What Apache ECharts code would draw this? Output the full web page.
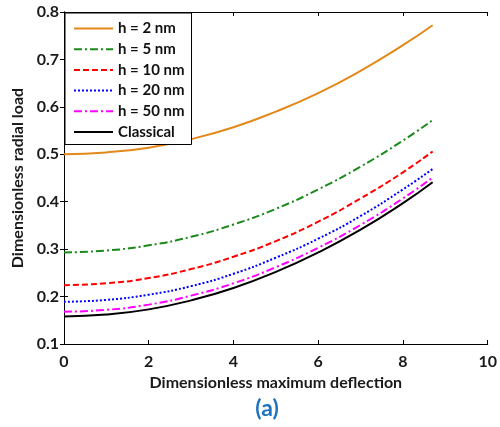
<!DOCTYPE html>
<html>
<head>
<meta charset="utf-8">
<script src="https://cdn.jsdelivr.net/npm/echarts@6/dist/echarts.min.js"></script>
<style>
  html, body { margin: 0; padding: 0; background: #fff; }
  #chart { width: 500px; height: 427px; }
</style>
</head>
<body>
<div id="chart"></div>
<script>
// Dimensionless maximum deflection (x) sample points
const deflection = [0, 1, 2, 3, 4, 5, 6, 7, 8, 8.7];

// Dimensionless radial load for each plate thickness
const load_h2 = [0.500, 0.504, 0.514, 0.532, 0.557, 0.590, 0.629, 0.676, 0.730, 0.772];
const load_h5 = [0.293, 0.297, 0.308, 0.326, 0.352, 0.385, 0.426, 0.474, 0.529, 0.572];
const load_h10 = [0.224, 0.228, 0.239, 0.258, 0.284, 0.317, 0.358, 0.407, 0.462, 0.506];
const load_h20 = [0.189, 0.193, 0.204, 0.222, 0.248, 0.282, 0.322, 0.370, 0.426, 0.469];
const load_h50 = [0.168, 0.172, 0.183, 0.202, 0.228, 0.262, 0.303, 0.351, 0.407, 0.451];
const load_classical = [0.158, 0.162, 0.173, 0.192, 0.218, 0.252, 0.293, 0.341, 0.397, 0.441];

const seriesNames = ['h = 2 nm', 'h = 5 nm', 'h = 10 nm', 'h = 20 nm', 'h = 50 nm', 'Classical'];
const xTicks = [0, 2, 4, 6, 8, 10];
const yTicks = [0.1, 0.2, 0.3, 0.4, 0.5, 0.6, 0.7, 0.8];

const FONT = 'Lato';

function pairs(ys) {
  return deflection.map((x, i) => [x, ys[i]]);
}

const styles = [
  { color: '#E3891A', type: 'solid' },
  { color: '#1A8A1A', type: [8, 3, 2, 3] },
  { color: '#FF0000', type: [6, 3] },
  { color: '#0000FF', type: [2, 2] },
  { color: '#FF00FF', type: [8, 3, 2, 3] },
  { color: '#000000', type: 'solid' }
];
const dataSets = [load_h2, load_h5, load_h10, load_h20, load_h50, load_classical];

const series = dataSets.map((d, i) => ({
  name: seriesNames[i],
  type: 'line',
  data: pairs(d),
  smooth: true,
  symbol: 'none',
  color: styles[i].color,
  lineStyle: { width: 2, color: styles[i].color, type: styles[i].type },
  z: 3
}));

const tickFont = { color: '#1a1a1a', fontFamily: FONT, fontWeight: 'bold', fontSize: 16 };
const titleFont = { color: '#1a1a1a', fontFamily: FONT, fontWeight: 'bold', fontSize: 16 };

const chart = echarts.init(document.getElementById('chart'));
chart.setOption({
  animation: false,
  backgroundColor: '#ffffff',
  grid: { left: 64, right: 9, top: 12, bottom: 83, containLabel: false },
  legend: {
    data: seriesNames,
    orient: 'vertical',
    left: 65,
    top: 13,
    itemWidth: 39,
    itemHeight: 14,
    itemGap: 5.7,
    padding: [8, 7, 5, 8],
    backgroundColor: '#fff',
    borderColor: '#000',
    borderWidth: 1,
    itemStyle: { opacity: 0 },
    textStyle: { color: '#111', fontFamily: FONT, fontWeight: 'bold', fontSize: 15 }
  },
  xAxis: [
    {
      type: 'value', min: 0, max: 10, interval: 2,
      name: 'Dimensionless maximum deflection',
      nameLocation: 'middle', nameGap: 29,
      nameTextStyle: titleFont,
      axisLine: { show: true, lineStyle: { color: '#000', width: 1 } },
      axisTick: { show: true, inside: true, length: 4, lineStyle: { color: '#000' } },
      axisLabel: Object.assign({ margin: 10, formatter: v => xTicks.includes(v) ? String(v) : '' }, tickFont),
      splitLine: { show: false }
    },
    {
      type: 'value', min: 0, max: 10, interval: 2, position: 'top',
      axisLine: { show: true, lineStyle: { color: '#000', width: 1 } },
      axisTick: { show: true, inside: true, length: 4, lineStyle: { color: '#000' } },
      axisLabel: { show: false },
      splitLine: { show: false }
    }
  ],
  yAxis: [
    {
      type: 'value', min: 0.1, max: 0.8, interval: 0.1,
      name: 'Dimensionless radial load',
      nameLocation: 'middle', nameGap: 37,
      nameTextStyle: titleFont,
      axisLine: { show: true, lineStyle: { color: '#000', width: 1 } },
      axisTick: { show: true, inside: true, length: 4, lineStyle: { color: '#000' } },
      axisLabel: Object.assign({ margin: 5, formatter: v => {
        const t = yTicks.find(y => Math.abs(y - v) < 1e-6);
        return t === undefined ? '' : t.toFixed(1);
      } }, tickFont),
      splitLine: { show: false }
    },
    {
      type: 'value', min: 0.1, max: 0.8, interval: 0.1, position: 'right',
      axisLine: { show: true, lineStyle: { color: '#000', width: 1 } },
      axisTick: { show: true, inside: true, length: 4, lineStyle: { color: '#000' } },
      axisLabel: { show: false },
      splitLine: { show: false }
    }
  ],
  graphic: [
    {
      type: 'text',
      x: 267,
      y: 409,
      style: {
        text: '(a)', fill: '#1E73BE',
        font: 'bold 23px "Lato"',
        textAlign: 'center', textVerticalAlign: 'middle'
      }
    }
  ],
  series: series
});
</script>
</body>
</html>
